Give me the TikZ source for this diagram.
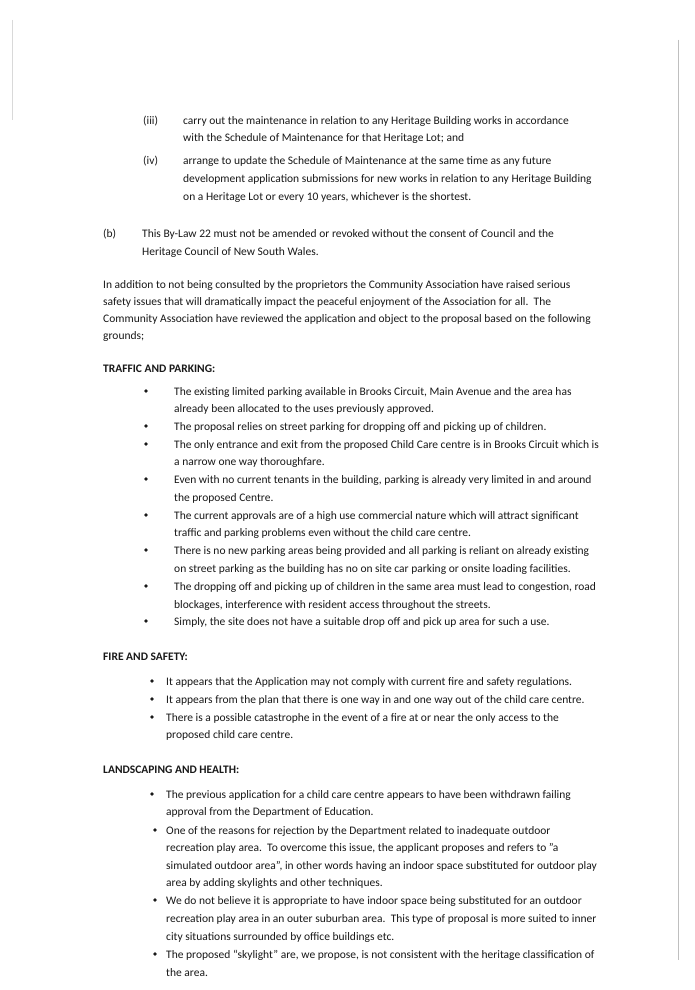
\documentclass[tikz,border=0pt]{standalone}
\usepackage{fontspec}
\setmainfont{Carlito}
\begin{document}
\begin{tikzpicture}[x=1pt,y=-1pt,
  t/.style={anchor=base west,inner sep=0pt,font=\fontsize{11.5}{13}\selectfont,text=black!90},
  h/.style={t,font=\fontsize{11.5}{13}\selectfont\bfseries},
  dot/.style={circle,fill=black!90,inner sep=0pt,minimum size=3.6pt}]
\useasboundingbox (0,0) rectangle (694,990);
\fill[white] (0,0) rectangle (694,990);
\draw[black!25,line width=0.6pt] (678,40) -- (678,960);
\draw[black!15,line width=0.5pt] (12,20) -- (12,120);
% (iii)
\node[t] (a1) at (143,124) {(iii)};
\node[t] (a2) at (183,124) {carry out the maintenance in relation to any Heritage Building works in accordance};
\node[t] (a3) at (183,141) {with the Schedule of Maintenance for that Heritage Lot; and};
\node[t] (b1) at (143,164) {(iv)};
\node[t] (b2) at (183,164) {arrange to update the Schedule of Maintenance at the same time as any future};
\node[t] (b3) at (183,182) {development application submissions for new works in relation to any Heritage Building};
\node[t] (b4) at (183,200) {on a Heritage Lot or every 10 years, whichever is the shortest.};
\node[t] (c1) at (103,237) {(b)};
\node[t] (c2) at (142,237) {This By-Law 22 must not be amended or revoked without the consent of Council and the};
\node[t] (c3) at (142,255) {Heritage Council of New South Wales.};
\node[t] (p1) at (103,288) {In addition to not being consulted by the proprietors the Community Association have raised serious};
\node[t] (p2) at (103,305) {safety issues that will dramatically impact the peaceful enjoyment of the Association for all.\ \ The};
\node[t] (p3) at (103,322) {Community Association have reviewed the application and object to the proposal based on the following};
\node[t] (p4) at (103,339) {grounds;};
\node[h] (h1) at (103,372) {TRAFFIC AND PARKING:};
\foreach \y in {391,426,444,479,515,550,586,621} \node[dot] at (146,\y) {};
\node[t] at (174,395) {The existing limited parking available in Brooks Circuit, Main Avenue and the area has};
\node[t] at (174,412) {already been allocated to the uses previously approved.};
\node[t] at (174,430) {The proposal relies on street parking for dropping off and picking up of children.};
\node[t] at (174,448) {The only entrance and exit from the proposed Child Care centre is in Brooks Circuit which is};
\node[t] at (174,465) {a narrow one way thoroughfare.};
\node[t] at (174,483) {Even with no current tenants in the building, parking is already very limited in and around};
\node[t] at (174,501) {the proposed Centre.};
\node[t] at (174,519) {The current approvals are of a high use commercial nature which will attract significant};
\node[t] at (174,536) {traffic and parking problems even without the child care centre.};
\node[t] at (174,554) {There is no new parking areas being provided and all parking is reliant on already existing};
\node[t] at (174,572) {on street parking as the building has no on site car parking or onsite loading facilities.};
\node[t] at (174,590) {The dropping off and picking up of children in the same area must lead to congestion, road};
\node[t] at (174,608) {blockages, interference with resident access throughout the streets.};
\node[t] at (174,625) {Simply,\ the site does not have a suitable drop off and pick up area for such a use.};
\node[h] (h2) at (103,660) {FIRE AND SAFETY:};
\foreach \y in {681,699,717} \node[dot] at (152,\y) {};
\node[t] at (166,685) {It appears that the Application may not comply with current fire and safety regulations.};
\node[t] at (166,703) {It appears from the plan that there is one way in and one way out of the child care centre.};
\node[t] at (166,721) {There is a possible catastrophe in the event of a fire at or near the only access to the};
\node[t] at (166,738) {proposed child care centre.};
\node[h] (h3) at (103,773) {LANDSCAPING AND HEALTH:};
\foreach \y/\x in {794/152,830/155,900/155,954/155} \node[dot] at (\x,\y) {};
\node[t] at (166,798) {The previous application for a child care centre appears to have been withdrawn failing};
\node[t] at (166,815) {approval from the Department of Education.};
\node[t] at (166,834) {One of the reasons for rejection by the Department related to inadequate outdoor};
\node[t] at (166,851) {recreation play area.\ \ To overcome this issue, the applicant proposes and refers to "a};
\node[t] at (166,869) {simulated outdoor area", in other words having an indoor space substituted for outdoor play};
\node[t] at (166,886) {area by adding skylights and other techniques.};
\node[t] at (166,904) {We do not believe it is appropriate to have indoor space being substituted for an outdoor};
\node[t] at (166,922) {recreation play area in an outer suburban area.\ \ This type of proposal is more suited to inner};
\node[t] at (166,940) {city situations surrounded by office buildings etc.};
\node[t] at (166,958) {The proposed “skylight” are, we propose, is not consistent with the heritage classification of};
\node[t] at (166,976) {the area.};
\end{tikzpicture}
\end{document}
